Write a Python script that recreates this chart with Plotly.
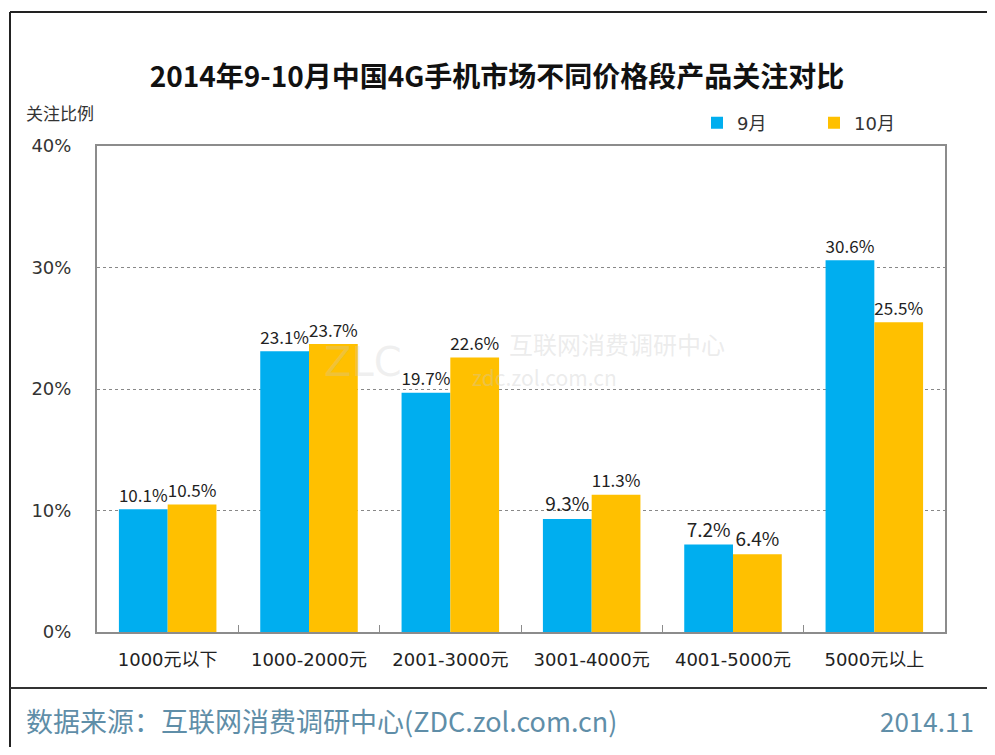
import plotly.graph_objects as go

categories = ["1000元以下", "1000-2000元", "2001-3000元", "3001-4000元", "4001-5000元", "5000元以上"]
sep_values = [10.1, 23.1, 19.7, 9.3, 7.2, 30.6]
oct_values = [10.5, 23.7, 22.6, 11.3, 6.4, 25.5]
series_names = ["9月", "10月"]
y_ticks = [0, 10, 20, 30, 40]

CJK = "Noto Sans CJK SC"
MIX = "DejaVu Sans, Noto Sans CJK SC"
BLUE = "#00AEEF"
GOLD = "#FFC000"

# the page body adds an 8px offset; figure is sized so it fits the 995x755 window
W, H = 979, 739
L, R, T, B = 89, 42, 138, 115
PW, PH = W - L - R, H - T - B


def px_x(x):
    return (x - 8 - L) / PW


def px_y(y):
    return (H - B - (y - 8)) / PH


fig = go.Figure()
for name, vals, col in [(series_names[0], sep_values, BLUE), (series_names[1], oct_values, GOLD)]:
    fig.add_trace(go.Bar(
        name=name, x=categories, y=vals, marker=dict(color=col, line=dict(width=0)),
        text=[f"{v}%" for v in vals], textposition="outside",
        textfont=dict(family=CJK, size=19, color="#222222"),
        cliponaxis=False,
    ))

fig.update_layout(
    width=W, height=H,
    margin=dict(l=L, r=R, t=T, b=B, autoexpand=False),
    paper_bgcolor="white", plot_bgcolor="white",
    barmode="group", bargap=0.31, bargroupgap=0,
    font=dict(family=CJK, color="#333333"),
    title=dict(text="<b>2014年9-10月中国4G手机市场不同价格段产品关注对比</b>",
               x=(497 - 8) / W, xref="container", xanchor="center",
               y=1 - (77 - 8) / H, yref="container", yanchor="middle",
               font=dict(family=CJK, size=28, color="#111111")),
    showlegend=True,
    legend=dict(orientation="h", x=px_x(697), xanchor="left", y=px_y(123), yanchor="middle",
                font=dict(family=MIX, size=18, color="#333333"),
                itemwidth=30, entrywidth=72, bgcolor="rgba(0,0,0,0)", traceorder="normal"),
    xaxis=dict(showline=True, linecolor="#8c8c8c", linewidth=2, mirror=True,
               tickson="boundaries", ticks="inside", ticklen=7, tickcolor="#8c8c8c",
               ticklabelstandoff=10,
               tickfont=dict(family=MIX, size=18, color="#222222"), showgrid=False),
    yaxis=dict(range=[0, 40], tickvals=y_ticks, ticktext=[f"{v}%" for v in y_ticks],
               showline=True, linecolor="#8c8c8c", linewidth=2, mirror=True,
               showgrid=True, gridcolor="#888888", griddash="dot", gridwidth=1,
               zeroline=False, ticks="", ticklabelstandoff=20,
               tickfont=dict(family="DejaVu Sans", size=18, color="#333333")),
)

fig.add_annotation(text="关注比例", xref="paper", yref="paper", x=px_x(24), y=px_y(112),
                   xanchor="left", yanchor="middle", showarrow=False,
                   font=dict(family=CJK, size=17, color="#333333"))
# faint watermark
fig.add_annotation(text="ZLC", xref="paper", yref="paper", x=px_x(322), y=px_y(362),
                   showarrow=False, font=dict(family="DejaVu Sans", size=40, color="rgba(200,200,200,0.28)"))
fig.add_annotation(text="互联网消费调研中心", xref="paper", yref="paper", x=px_x(507), y=px_y(343),
                   xanchor="left", showarrow=False,
                   font=dict(family=CJK, size=24, color="rgba(200,200,200,0.35)"))
fig.add_annotation(text="zdc.zol.com.cn", xref="paper", yref="paper", x=px_x(470), y=px_y(377),
                   xanchor="left", showarrow=False,
                   font=dict(family=CJK, size=21, color="rgba(200,200,200,0.35)"))
# footer
fig.add_annotation(text="数据来源：互联网消费调研中心(ZDC.zol.com.cn)", xref="paper", yref="paper",
                   x=px_x(24), y=px_y(720), xanchor="left", yanchor="middle", showarrow=False,
                   font=dict(family=CJK, size=27, color="#5f8ea8"))
fig.add_annotation(text="2014.11", xref="paper", yref="paper", x=px_x(976), y=px_y(720),
                   xanchor="right", yanchor="middle", showarrow=False,
                   font=dict(family=CJK, size=26, color="#5f8ea8"))

# frame lines
fig.add_shape(type="line", xref="paper", yref="paper", x0=px_x(10), x1=px_x(995),
              y0=px_y(12), y1=px_y(12), line=dict(color="#222222", width=2))
fig.add_shape(type="line", xref="paper", yref="paper", x0=px_x(10), x1=px_x(10),
              y0=px_y(12), y1=px_y(755), line=dict(color="#222222", width=2))
fig.add_shape(type="line", xref="paper", yref="paper", x0=px_x(10), x1=px_x(995),
              y0=px_y(688), y1=px_y(688), line=dict(color="#333333", width=2))

fig.write_html("out.html")
